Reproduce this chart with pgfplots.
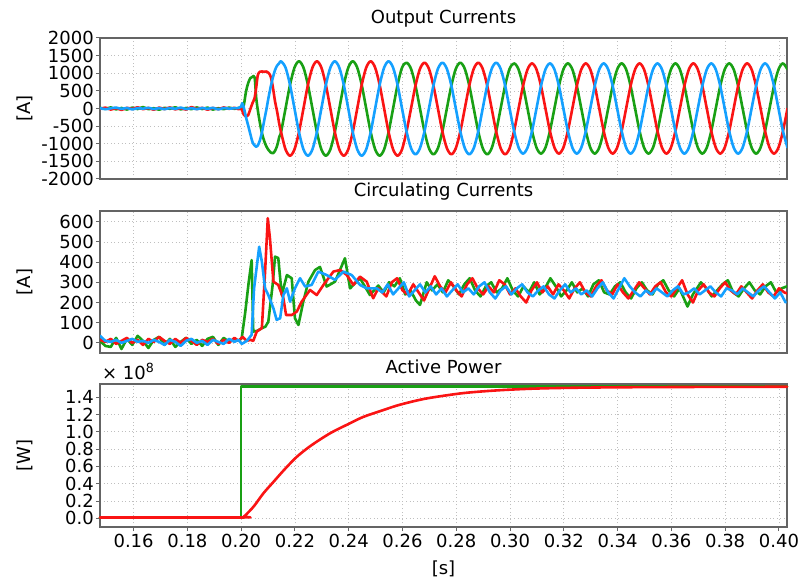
\documentclass[border=0pt]{standalone}
\usepackage{fontspec}
\setmainfont{DejaVu Sans}
\usepackage{pgfplots}
\usepackage{pgfplotstable}
\pgfplotsset{compat=1.18}

\definecolor{cg}{RGB}{25,160,20}
\definecolor{cr}{RGB}{250,20,20}
\definecolor{cb}{RGB}{20,160,255}
\definecolor{frame}{RGB}{100,100,100}

% output currents: time, phase green, red, blue
\pgfplotstableread{
t g r b
0.1475 20 -15 10
0.1495 -10 25 -20
0.1515 30 -30 5
0.1535 -25 10 25
0.1555 15 -40 -10
0.1575 -30 20 15
0.1595 25 -10 -25
0.1615 -15 35 10
0.1635 40 -20 -5
0.1655 -20 15 20
0.1675 10 -35 -15
0.1695 -35 25 10
0.1715 20 -15 -20
0.1735 -10 30 15
0.1755 35 -25 -10
0.1775 -25 10 25
0.1795 15 -30 -15
0.1815 -20 40 10
0.1835 30 -15 -20
0.1855 -15 20 15
0.1875 25 -35 -10
0.1895 -30 15 20
0.1915 10 -20 -25
0.1935 -20 30 15
0.1955 25 -10 -5
0.1975 -10 20 10
0.1990 15 -20 10
0.2000 10 0 60
0.2004 20 -60 150
0.2010 100 -180 20
0.2018 480 -230 -250
0.2026 720 -190 -480
0.2034 860 -20 -720
0.2042 900 150 -950
0.2050 880 300 -1050
0.2056 300 600 -1085
0.2062 -50 950 -1050
0.2070 -420 1045 -894
0.2078 -720 1050 -650
0.2086 -930 1040 -330
0.2094 -1080 1050 -20
0.2102 -1180 1010 320
0.2110 -1250 900 620
0.2118 -1270 600 880
0.2126 -1200 200 1092
0.2134 -1050 -100 1220
0.2142 -800 -450 1290
0.21483 -670 -670 1340
0.21650 0 -1160 1160
0.21817 670 -1340 670
0.21983 1160 -1160 0
0.22150 1340 -670 -670
0.22317 1160 0 -1160
0.22483 670 670 -1340
0.22650 0 1160 -1160
0.22817 -670 1340 -670
0.22983 -1160 1160 0
0.23150 -1340 670 670
0.23317 -1160 0 1160
0.23483 -670 -670 1340
0.23650 0 -1160 1160
0.23817 670 -1340 670
0.23983 1160 -1160 0
0.24150 1340 -670 -670
0.24317 1160 0 -1160
0.24483 670 670 -1340
0.24650 0 1160 -1160
0.24817 -670 1340 -670
0.24983 -1160 1160 0
0.25150 -1340 670 670
0.25317 -1160 0 1160
0.25483 -670 -670 1340
0.25650 0 -1160 1160
0.25817 670 -1340 670
0.25983 1160 -1160 0
0.26150 1300 -650 -650
0.26317 1126 0 -1126
0.26483 650 650 -1300
0.26650 0 1126 -1126
0.26817 -650 1300 -650
0.26983 -1126 1126 0
0.27150 -1300 650 650
0.27317 -1126 0 1126
0.27483 -650 -650 1300
0.27650 0 -1126 1126
0.27817 650 -1300 650
0.27983 1126 -1126 0
0.28150 1300 -650 -650
0.28317 1126 0 -1126
0.28483 650 650 -1300
0.28650 0 1126 -1126
0.28817 -650 1300 -650
0.28983 -1126 1126 0
0.29150 -1300 650 650
0.29317 -1126 0 1126
0.29483 -650 -650 1300
0.29650 0 -1126 1126
0.29817 650 -1300 650
0.29983 1126 -1126 0
0.30150 1280 -640 -640
0.30317 1109 0 -1109
0.30483 640 640 -1280
0.30650 0 1109 -1109
0.30817 -640 1280 -640
0.30983 -1109 1109 0
0.31150 -1280 640 640
0.31317 -1109 0 1109
0.31483 -640 -640 1280
0.31650 0 -1109 1109
0.31817 640 -1280 640
0.31983 1109 -1109 0
0.32150 1280 -640 -640
0.32317 1109 0 -1109
0.32483 640 640 -1280
0.32650 0 1109 -1109
0.32817 -640 1280 -640
0.32983 -1109 1109 0
0.33150 -1280 640 640
0.33317 -1109 0 1109
0.33483 -640 -640 1280
0.33650 0 -1109 1109
0.33817 640 -1280 640
0.33983 1109 -1109 0
0.34150 1280 -640 -640
0.34317 1109 0 -1109
0.34483 640 640 -1280
0.34650 0 1109 -1109
0.34817 -640 1280 -640
0.34983 -1109 1109 0
0.35150 -1280 640 640
0.35317 -1109 0 1109
0.35483 -640 -640 1280
0.35650 0 -1109 1109
0.35817 640 -1280 640
0.35983 1109 -1109 0
0.36150 1280 -640 -640
0.36317 1109 0 -1109
0.36483 640 640 -1280
0.36650 0 1109 -1109
0.36817 -640 1280 -640
0.36983 -1109 1109 0
0.37150 -1280 640 640
0.37317 -1109 0 1109
0.37483 -640 -640 1280
0.37650 0 -1109 1109
0.37817 640 -1280 640
0.37983 1109 -1109 0
0.38150 1280 -640 -640
0.38317 1109 0 -1109
0.38483 640 640 -1280
0.38650 0 1109 -1109
0.38817 -640 1280 -640
0.38983 -1109 1109 0
0.39150 -1280 640 640
0.39317 -1109 0 1109
0.39483 -640 -640 1280
0.39650 0 -1109 1109
0.39817 640 -1280 640
0.39983 1109 -1109 0
0.40150 1280 -640 -640
0.40317 1109 0 -1109
}\outcur

\pgfplotsset{
  panel/.style={
    scale only axis, width=687pt,
    xmin=0.1475, xmax=0.403,
    xtick={0.16,0.18,0.20,0.22,0.24,0.26,0.28,0.30,0.32,0.34,0.36,0.38,0.40},
    grid=major,
    grid style={draw=gray!50, line width=0.7pt, dash pattern=on 1pt off 2.6pt},
    axis line style={draw=frame, line width=1.3pt},
    tick align=outside, ytick pos=left, major tick length=4pt,
    tick style={draw=frame, line width=1pt},
    tick label style={font=\fontsize{18}{20}\selectfont},
    yticklabel style={inner xsep=2pt},
    title style={at={(0.5,1)}, anchor=base, inner sep=0pt, yshift=8pt,
      font=\fontsize{18}{20}\selectfont},
    ylabel style={at={(axis description cs:-0.1095,0.5)}, anchor=center,
      font=\fontsize{18}{20}\selectfont},
    every axis plot/.append style={line width=2.6pt, line join=round, line cap=round},
  },
  upper/.style={xticklabels={}, xtick style={draw=none}},
}

\begin{document}
\begin{tikzpicture}[font=\fontsize{18}{20}\selectfont]
\path[use as bounding box] (0,0) rectangle (801pt,-580pt);

\begin{axis}[panel, upper, height=141pt, at={(100pt,-38pt)}, anchor=north west,
  ymin=-2000, ymax=2000,
  ytick={-2000,-1500,-1000,-500,0,500,1000,1500,2000},
  yticklabels={-2000,-1500,-1000,-500,0,500,1000,1500,2000},
  title={Output Currents}, ylabel={[A]}]
\addplot[cg, smooth] table[x=t, y=g] {\outcur};
\addplot[cr, smooth] table[x=t, y=r] {\outcur};
\addplot[cb, smooth] table[x=t, y=b] {\outcur};
\end{axis}

\begin{axis}[panel, upper, height=142pt, at={(100pt,-211pt)}, anchor=north west,
  ymin=-50, ymax=653,
  ytick={0,100,200,300,400,500,600},
  yticklabels={0,100,200,300,400,500,600},
  title={Circulating Currents}, ylabel={[A]}]
\addplot[cg] coordinates {
(0.1475,10) (0.1495,-15) (0.1515,-20) (0.1535,25) (0.1555,-30) (0.1575,20)
(0.1595,-10) (0.1615,35) (0.1635,10) (0.1655,-25) (0.1675,15) (0.1695,30)
(0.1715,-10) (0.1735,20) (0.1755,-20) (0.1775,5) (0.1795,25) (0.1815,-5)
(0.1835,15) (0.1855,-15) (0.1875,20) (0.1895,30) (0.1915,-10) (0.1935,25)
(0.1955,5) (0.1975,20) (0.1990,10) (0.2002,23) (0.2015,150) (0.2028,300)
(0.2039,410) (0.2045,56) (0.2060,60) (0.2077,73) (0.2090,80) (0.2101,105)
(0.2117,287) (0.2126,427) (0.2138,420) (0.2151,237) (0.2170,336) (0.2188,320)
(0.2200,122) (0.2213,89) (0.2231,204) (0.2250,303) (0.2275,361) (0.2293,376)
(0.2318,279) (0.2349,303) (0.2386,419) (0.2405,270) (0.2442,320) (0.2479,237)
(0.2510,284) (0.253,250) (0.255,300) (0.257,280) (0.259,320) (0.261,240)
(0.263,260) (0.265,210) (0.2665,188) (0.269,300) (0.271,260) (0.273,290)
(0.275,250) (0.277,310) (0.279,280) (0.281,240) (0.283,290) (0.285,320)
(0.287,260) (0.289,230) (0.291,280) (0.293,300) (0.295,250) (0.297,270)
(0.299,320) (0.301,260) (0.303,230) (0.305,280) (0.307,250) (0.309,300)
(0.311,240) (0.313,270) (0.315,320) (0.317,280) (0.319,230) (0.321,260)
(0.323,300) (0.325,250) (0.327,270) (0.329,230) (0.331,290) (0.333,310)
(0.335,250) (0.337,240) (0.339,280) (0.341,300) (0.343,250) (0.345,220)
(0.347,270) (0.349,300) (0.351,260) (0.353,240) (0.355,290) (0.357,310)
(0.359,260) (0.361,230) (0.363,270) (0.366,180) (0.368,240) (0.371,300)
(0.373,270) (0.375,230) (0.377,260) (0.379,290) (0.381,310) (0.383,250)
(0.385,230) (0.387,270) (0.389,300) (0.391,260) (0.393,240) (0.395,280)
(0.397,300) (0.399,250) (0.401,270) (0.403,280)};
\addplot[cr] coordinates {
(0.1475,15) (0.1495,5) (0.1515,20) (0.1535,-5) (0.1555,10) (0.1575,25)
(0.1595,0) (0.1615,15) (0.1635,-10) (0.1655,20) (0.1675,5) (0.1695,30)
(0.1715,10) (0.1735,-5) (0.1755,20) (0.1775,0) (0.1795,25) (0.1815,10)
(0.1835,-10) (0.1855,15) (0.1875,5) (0.1895,20) (0.1915,-5) (0.1935,15)
(0.1955,0) (0.1975,25) (0.1990,10) (0.2005,30) (0.2020,10) (0.2035,15)
(0.2045,10) (0.2058,56) (0.2077,73) (0.2089,353) (0.2099,617) (0.2107,518)
(0.2120,303) (0.2138,287) (0.2157,221) (0.2167,138) (0.2188,138) (0.2207,155)
(0.2225,204) (0.2256,262) (0.2281,237) (0.2306,287) (0.2343,353) (0.2368,361)
(0.2393,336) (0.2417,287) (0.2442,328) (0.2467,303) (0.2491,221) (0.2510,270)
(0.254,230) (0.256,300) (0.258,320) (0.260,260) (0.262,240) (0.264,290)
(0.266,250) (0.268,210) (0.270,270) (0.272,330) (0.274,280) (0.276,250)
(0.278,300) (0.280,260) (0.282,230) (0.284,290) (0.286,320) (0.288,270)
(0.290,240) (0.292,280) (0.294,250) (0.296,310) (0.298,290) (0.300,240)
(0.302,270) (0.304,230) (0.306,200) (0.308,260) (0.310,300) (0.312,250)
(0.314,280) (0.316,240) (0.318,290) (0.320,260) (0.322,220) (0.324,270)
(0.326,300) (0.328,250) (0.330,230) (0.332,280) (0.334,310) (0.336,260)
(0.338,240) (0.340,290) (0.342,250) (0.344,220) (0.346,260) (0.348,300)
(0.350,270) (0.352,240) (0.354,280) (0.356,300) (0.358,250) (0.360,230)
(0.362,270) (0.364,310) (0.366,240) (0.368,200) (0.370,260) (0.372,290)
(0.374,250) (0.376,230) (0.378,270) (0.380,300) (0.382,260) (0.384,240)
(0.386,280) (0.388,250) (0.390,220) (0.392,260) (0.394,290) (0.396,250)
(0.398,230) (0.400,270) (0.402,250) (0.404,240)};
\addplot[cb] coordinates {
(0.1475,35) (0.1495,10) (0.1515,5) (0.1535,15) (0.1555,0) (0.1575,10)
(0.1595,20) (0.1615,5) (0.1635,10) (0.1655,0) (0.1675,15) (0.1695,5)
(0.1715,-10) (0.1735,15) (0.1755,5) (0.1775,-15) (0.1795,10) (0.1815,20)
(0.1835,0) (0.1855,10) (0.1875,-10) (0.1895,15) (0.1915,5) (0.1935,-5)
(0.1955,20) (0.1975,5) (0.1990,15) (0.2002,-5) (0.2021,10) (0.2039,40)
(0.2048,270) (0.2067,476) (0.2077,402) (0.2089,270) (0.2101,237) (0.2120,171)
(0.2132,114) (0.2145,122) (0.2157,237) (0.2170,270) (0.2182,204) (0.2200,270)
(0.2219,320) (0.2238,279) (0.2262,287) (0.2287,353) (0.2318,336) (0.2349,312)
(0.2380,353) (0.2411,336) (0.2442,287) (0.2467,270) (0.2504,270) (0.2525,250)
(0.2545,290) (0.2565,240) (0.2585,270) (0.2605,300) (0.2625,230) (0.2645,260)
(0.2665,290) (0.2685,250) (0.2705,280) (0.2725,240) (0.2745,270) (0.2765,230)
(0.2785,260) (0.2805,290) (0.2825,250) (0.2845,270) (0.2865,240) (0.2885,280)
(0.2905,300) (0.2925,250) (0.2945,220) (0.2965,260) (0.2985,280) (0.3005,240)
(0.3025,270) (0.3045,290) (0.3065,250) (0.3085,230) (0.3105,260) (0.3125,280)
(0.3145,240) (0.3165,220) (0.3185,260) (0.3205,290) (0.3225,250) (0.3245,270)
(0.3265,240) (0.3285,260) (0.3305,230) (0.3325,270) (0.3345,300) (0.3365,250)
(0.3385,220) (0.3405,270) (0.3425,320) (0.3445,280) (0.3465,250) (0.3485,230)
(0.3505,260) (0.3525,240) (0.3545,270) (0.3565,250) (0.3585,230) (0.3605,260)
(0.3625,280) (0.3645,240) (0.3665,250) (0.3685,270) (0.3705,240) (0.3725,260)
(0.3745,280) (0.3765,250) (0.3785,230) (0.3805,270) (0.3825,260) (0.3845,240)
(0.3865,270) (0.3885,250) (0.3905,230) (0.3925,260) (0.3945,280) (0.3965,250)
(0.3985,220) (0.4005,250) (0.4025,200)};
\end{axis}

\begin{axis}[panel, height=143pt, at={(100pt,-384pt)}, anchor=north west,
  ymin=-0.1, ymax=1.55, xtick pos=bottom, clip=false,
  xticklabels={0.16,0.18,0.20,0.22,0.24,0.26,0.28,0.30,0.32,0.34,0.36,0.38,0.40},
  ytick={0,0.2,0.4,0.6,0.8,1.0,1.2,1.4},
  yticklabels={0.0,0.2,0.4,0.6,0.8,1.0,1.2,1.4},
  title={Active Power}, title style={yshift=-3pt}, ylabel={[W]},
  xlabel={[s]},
  xlabel style={at={(axis description cs:0.5,0)}, anchor=base, inner sep=0pt,
    yshift=-47pt, font=\fontsize{18}{20}\selectfont}]
\addplot[cg] coordinates {(0.1475,0.01) (0.2000,0.01) (0.2000,1.52) (0.403,1.52)};
\addplot[cr, smooth] coordinates {
(0.1475,0.01) (0.2000,0.01) (0.2010,0.02) (0.2030,0.08) (0.2050,0.15)
(0.2083,0.29) (0.2120,0.42) (0.2160,0.56) (0.2207,0.71) (0.2260,0.84)
(0.2330,0.98) (0.2400,1.09) (0.2454,1.17) (0.2520,1.24) (0.2578,1.30)
(0.2640,1.35) (0.2702,1.39) (0.2826,1.445) (0.2950,1.476) (0.3074,1.495)
(0.3200,1.505) (0.3400,1.512) (0.3600,1.515) (0.3800,1.517) (0.4030,1.518)};
\node[anchor=base west, inner sep=0pt, xshift=2pt, yshift=5pt]
  at (rel axis cs:0,1) {× 10\textsuperscript{8}};
\end{axis}
\end{tikzpicture}
\end{document}
